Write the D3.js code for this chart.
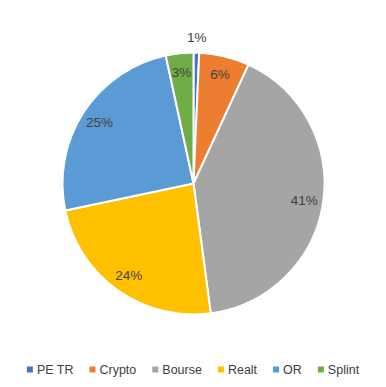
<!DOCTYPE html>
<html>
<head>
<meta charset="utf-8">
<script src="https://cdn.jsdelivr.net/npm/d3@7"></script>
<style>
  body { margin: 0; background: #fff; }
  text { font-family: "Liberation Sans", Arial, sans-serif; fill: #404040; }
</style>
</head>
<body>
<div id="chart"></div>
<script>
var categories = ["PE TR", "Crypto", "Bourse", "Realt", "OR", "Splint"];
var values = [0.7, 6.2, 41.0, 23.8, 24.9, 3.4];
var colors = ["#4472C4", "#ED7D31", "#A5A5A5", "#FFC000", "#5B9BD5", "#70AD47"];

var width = 386, height = 387;
var cx = 193.5, cy = 183.5, radius = 131;

var data = categories.map(function(c, i) { return {name: c, value: values[i], color: colors[i]}; });
var total = d3.sum(values);

var svg = d3.select("#chart")
    .append("svg")
    .attr("width", width)
    .attr("height", height);

var pie = d3.pie().sort(null).value(function(d) { return d.value; });
var arc = d3.arc().innerRadius(0).outerRadius(radius);
var labelArc = d3.arc().innerRadius(112).outerRadius(112);
var outerArc = d3.arc().innerRadius(146).outerRadius(146);

var g = svg.append("g").attr("transform", "translate(" + cx + "," + cy + ")");

var arcs = pie(data);

g.selectAll("path")
    .data(arcs)
    .enter().append("path")
    .attr("d", arc)
    .attr("fill", function(d) { return d.data.color; })
    .attr("stroke", "#fff")
    .attr("stroke-width", 2)
    .attr("stroke-linejoin", "round");

// percentage labels, tiny slices go outside
g.selectAll(".lbl")
    .data(arcs)
    .enter().append("text")
    .attr("class", "lbl")
    .attr("transform", function(d) {
        var p = (d.endAngle - d.startAngle) < 0.1 ? outerArc.centroid(d) : labelArc.centroid(d);
        return "translate(" + p + ")";
    })
    .attr("text-anchor", "middle")
    .attr("dy", "0.35em")
    .style("font-size", "13.5px")
    .text(function(d) { return Math.round(d.data.value / total * 100) + "%"; });

// legend
var legend = svg.append("g").attr("class", "legend");
var items = legend.selectAll("g")
    .data(data)
    .enter().append("g");

items.append("rect")
    .attr("width", 6)
    .attr("height", 6)
    .attr("y", -3)
    .attr("fill", function(d) { return d.color; });

items.append("text")
    .attr("x", 10)
    .attr("dy", "0.35em")
    .style("font-size", "12.5px")
    .text(function(d) { return d.name; });

var xpos = 0;
items.each(function() {
    var w = this.querySelector("text").getComputedTextLength();
    d3.select(this).attr("transform", "translate(" + xpos + ",0)");
    xpos += 10 + w + 16;
});
var legendWidth = xpos - 16;
legend.attr("transform", "translate(" + ((width - legendWidth) / 2) + ",369.5)");
</script>
</body>
</html>
